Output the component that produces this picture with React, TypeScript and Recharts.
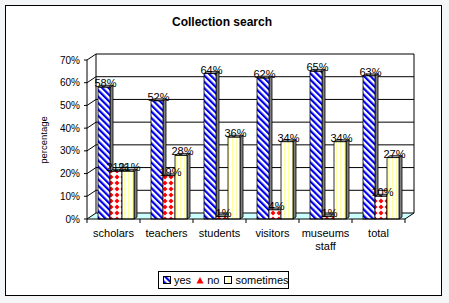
import React from "react";
import { BarChart, Bar, XAxis, YAxis, CartesianGrid, LabelList } from "recharts";

// survey answers per group (percent)
const categories = ["scholars", "teachers", "students", "visitors", "museums staff", "total"];
const yesValues = [58, 52, 64, 62, 65, 63];
const noValues = [21, 19, 1, 4, 1, 10];
const sometimesValues = [21, 28, 36, 34, 34, 27];
const yTicks = [0, 10, 20, 30, 40, 50, 60, 70];
const seriesNames = ["yes", "no", "sometimes"];
const seriesFills = ["url(#patYes)", "url(#patNo)", "url(#patSome)"];

const data = categories.map((c, i) => ({
  category: c,
  yes: yesValues[i],
  no: noValues[i],
  sometimes: sometimesValues[i],
}));

const W = 449;
const H = 303;
const LEFT = 87;
const RIGHT = 405;
const TOP = 60;
const BOTTOM = 219;
const DX = 9; // wall depth
const DY = -6;
const BDX = 3; // bar depth
const BDY = -2;
const SHIFT = 2;
const FONT = "'Liberation Sans', Arial, sans-serif";
const band = (RIGHT - LEFT) / categories.length;

const Bar3D = (props: any) => {
  const { x, y, width, height, fill } = props;
  const x0 = x + SHIFT;
  const x1 = x0 + width;
  const y1 = y + height;
  return (
    <g>
      <polygon
        points={`${x1},${y} ${x1 + BDX},${y + BDY} ${x1 + BDX},${y1 + BDY} ${x1},${y1}`}
        fill="#808080"
        stroke="#000"
        strokeWidth={0.8}
      />
      <polygon
        points={`${x0},${y} ${x0 + BDX},${y + BDY} ${x1 + BDX},${y + BDY} ${x1},${y}`}
        fill="#a8a8a8"
        stroke="#000"
        strokeWidth={0.8}
      />
      <rect x={x0} y={y} width={width} height={height} fill={fill} stroke="#000" strokeWidth={0.8} />
    </g>
  );
};

const ValueLabel = (props: any) => {
  const { x, y, width, value } = props;
  return (
    <text x={x + width / 2 + SHIFT + 1.5} y={y} textAnchor="middle" fontSize={11} fontFamily={FONT} fill="#000">
      {value}%
    </text>
  );
};

const XTick = (props: any) => {
  const { x, payload, index } = props;
  const words = String(payload.value).split(" ");
  return (
    <g>
      <line x1={x - band / 2} y1={BOTTOM} x2={x - band / 2} y2={BOTTOM + 4} stroke="#000" />
      {index === categories.length - 1 && (
        <line x1={x + band / 2} y1={BOTTOM} x2={x + band / 2} y2={BOTTOM + 4} stroke="#000" />
      )}
      <text x={x} y={BOTTOM + 18} textAnchor="middle" fontSize={11} fontFamily={FONT} fill="#000">
        {words.map((w, i) => (
          <tspan key={i} x={x} dy={i === 0 ? 0 : 13}>
            {w}
          </tspan>
        ))}
      </text>
    </g>
  );
};

const YTick = (props: any) => {
  const { y, payload } = props;
  return (
    <g>
      <line x1={LEFT} y1={y} x2={LEFT + DX} y2={y + DY} stroke="#000" />
      <line x1={LEFT - 3} y1={y} x2={LEFT} y2={y} stroke="#000" />
      <text x={LEFT - 7} y={y} dy={3.5} textAnchor="end" fontSize={10} fontFamily={FONT} fill="#000">
        {payload.value}%
      </text>
    </g>
  );
};

const Patterns = () => (
  <defs>
    <pattern id="patYes" width={4.5} height={4.5} patternUnits="userSpaceOnUse" patternTransform="rotate(-45)">
      <rect width={4.5} height={4.5} fill="#fff" />
      <rect width={2.2} height={4.5} fill="#0000ee" />
    </pattern>
    <pattern id="patNo" width={6} height={6} patternUnits="userSpaceOnUse">
      <rect width={6} height={6} fill="#fff" />
      <polygon points="3,0.5 5.5,3 3,5.5 0.5,3" fill="#ff0000" />
    </pattern>
    <pattern id="patSome" width={4} height={4} patternUnits="userSpaceOnUse">
      <rect width={4} height={4} fill="#ffffff" />
      <rect width={1} height={4} fill="#ffffa0" />
    </pattern>
  </defs>
);

const Legend3D = () => (
  <div
    style={{
      position: "absolute",
      left: 158,
      top: 271,
      width: 131,
      height: 18,
      border: "1px solid #000",
      background: "#fff",
      display: "flex",
      alignItems: "center",
      fontFamily: FONT,
      fontSize: 11,
      boxSizing: "border-box",
      paddingLeft: 4,
    }}
  >
    {seriesNames.map((name, i) => (
      <span key={name} style={{ display: "flex", alignItems: "center", marginRight: 5 }}>
        <svg width={8} height={8} style={{ marginRight: 3 }}>
          {i === 1 ? (
            <polygon points="4,1 7.5,7.5 0.5,7.5" fill="#ff0000" />
          ) : (
            <rect x={0.5} y={0.5} width={7} height={7} fill={seriesFills[i]} stroke="#000" />
          )}
        </svg>
        {name}
      </span>
    ))}
  </div>
);

export default function App() {
  return (
    <div style={{ position: "absolute", left: 0, top: 0, width: W, height: H, background: "#f4f5f7" }}>
      <svg width={W} height={H} style={{ position: "absolute", left: 0, top: 0 }}>
        <Patterns />
        <rect x={5.5} y={5.5} width={436} height={290} fill="#fff" stroke="#000" />
        <text x={222} y={26} textAnchor="middle" fontSize={12} fontWeight="bold" fontFamily={FONT}>
          Collection search
        </text>
        <text
          x={47}
          y={140}
          textAnchor="middle"
          fontSize={9.5}
          fontFamily={FONT}
          transform="rotate(-90 47 140)"
        >
          percentage
        </text>
        <polygon
          points={`${LEFT},${BOTTOM} ${RIGHT},${BOTTOM} ${RIGHT + DX},${BOTTOM + DY} ${LEFT + DX},${BOTTOM + DY}`}
          fill="#ccffff"
        />
        <line x1={LEFT + DX} y1={TOP + DY} x2={LEFT + DX} y2={BOTTOM + DY} stroke="#000" />
        <line x1={RIGHT + DX} y1={TOP + DY} x2={RIGHT + DX} y2={BOTTOM + DY} stroke="#000" />
        <line x1={RIGHT} y1={BOTTOM} x2={RIGHT + DX} y2={BOTTOM + DY} stroke="#000" />
      </svg>
      <BarChart
        width={W}
        height={H}
        data={data}
        margin={{ top: TOP, right: W - RIGHT, bottom: H - BOTTOM - 30, left: 0 }}
        barGap={0}
        barCategoryGap="17%"
        style={{ position: "absolute", left: 0, top: 0 }}
      >
        <CartesianGrid
          vertical={false}
          horizontal={(p: any) => (
            <line
              key={p.key}
              x1={p.x1 + DX}
              y1={p.y1 + DY}
              x2={p.x2 + DX}
              y2={p.y2 + DY}
              stroke="#000"
            />
          )}
        />
        <XAxis
          dataKey="category"
          height={30}
          interval={0}
          tickLine={false}
          axisLine={{ stroke: "#000" }}
          tick={<XTick />}
        />
        <YAxis
          width={LEFT}
          domain={[0, 70]}
          ticks={yTicks}
          interval={0}
          tickLine={false}
          axisLine={{ stroke: "#000" }}
          tick={<YTick />}
        />
        {seriesNames.map((name, i) => (
          <Bar key={name} dataKey={name} fill={seriesFills[i]} shape={<Bar3D />} isAnimationActive={false}>
            <LabelList dataKey={name} content={<ValueLabel />} />
          </Bar>
        ))}
      </BarChart>
      <Legend3D />
    </div>
  );
}
